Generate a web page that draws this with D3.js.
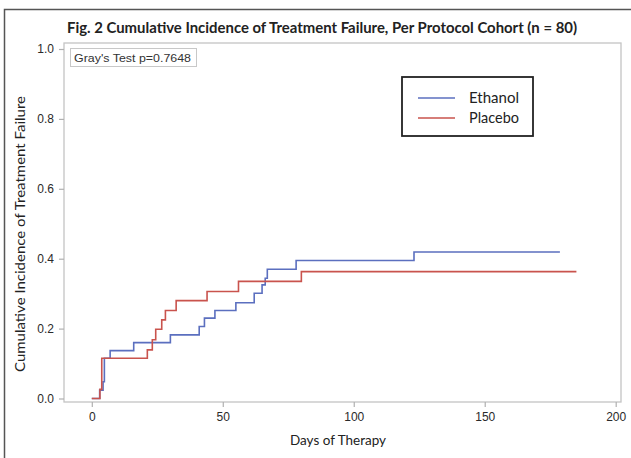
<!DOCTYPE html>
<html>
<head>
<meta charset="utf-8">
<script src="https://cdn.jsdelivr.net/npm/d3@7"></script>
<style>
body { margin: 0; background: #fff; }
svg { display: block; }
</style>
</head>
<body>
<svg width="631" height="458"></svg>
<script>
// step data: [day, cumulative incidence]
var ethanol = [[0, 0], [3, 0.024], [4.3, 0.048], [4.8, 0.115], [7, 0.137], [16, 0.16], [30, 0.182],
	[41, 0.206], [43, 0.23], [47, 0.252], [55, 0.274], [62, 0.301], [65, 0.325], [66.2, 0.344],
	[67, 0.37], [78, 0.395], [123, 0.419], [178.7, 0.419]];
var placebo = [[0, 0], [3.1, 0.026], [3.8, 0.115], [21.2, 0.139], [23.1, 0.168], [24.4, 0.198],
	[26.7, 0.225], [28.1, 0.252], [32.2, 0.28], [44, 0.306], [56, 0.335], [80, 0.363], [185, 0.363]];
var xTicks = [0, 50, 100, 150, 200];
var yTicks = [0, 0.2, 0.4, 0.6, 0.8, 1.0];
var seriesNames = ["Ethanol", "Placebo"];
var colors = ["#5b6fbf", "#c9534d"];

var svg = d3.select("svg");

// outer frame of the figure
svg.append("rect")
	.attr("x", 4.5).attr("y", 9.5)
	.attr("width", 640).attr("height", 460)
	.attr("fill", "none").attr("stroke", "#555").attr("stroke-width", 1.5);

var x = d3.scaleLinear().domain([0, 200]).range([91.8, 615.7]);
var y = d3.scaleLinear().domain([0, 1]).range([398.5, 49]);

var frame = { left: 64, top: 43, right: 621, bottom: 402 };

svg.append("rect")
	.attr("x", frame.left).attr("y", frame.top)
	.attr("width", frame.right - frame.left).attr("height", frame.bottom - frame.top)
	.attr("fill", "none").attr("stroke", "#c4c4c4").attr("stroke-width", 1.3);

// axes
var xAxis = svg.append("g")
	.attr("transform", "translate(0," + frame.bottom + ")")
	.call(d3.axisBottom(x).tickValues(xTicks).tickSize(5).tickPadding(5).tickFormat(d3.format("d")));
var yAxis = svg.append("g")
	.attr("transform", "translate(" + frame.left + ",0)")
	.call(d3.axisLeft(y).tickValues(yTicks).tickSize(5).tickPadding(5).tickFormat(d3.format(".1f")));

[xAxis, yAxis].forEach(a => {
	a.select(".domain").remove();
	a.selectAll(".tick line").attr("stroke", "#b0b0b0").attr("stroke-width", 1.2);
	a.selectAll(".tick text")
		.attr("fill", "#2a2a2a")
		.style("font-family", "'Liberation Sans', Arial, sans-serif")
		.style("font-size", "12px");
});

// step lines
var line = d3.line()
	.x(d => x(d[0]))
	.y(d => y(d[1]))
	.curve(d3.curveStepAfter);

[ethanol, placebo].forEach((s, i) => {
	svg.append("path")
		.datum(s)
		.attr("d", line)
		.attr("fill", "none")
		.attr("stroke", colors[i])
		.attr("stroke-width", 1.6);
});

// title
svg.append("text")
	.attr("x", 322).attr("y", 33)
	.attr("text-anchor", "middle")
	.attr("textLength", 510).attr("lengthAdjust", "spacingAndGlyphs")
	.style("font-family", "Lato, 'Open Sans', sans-serif")
	.style("font-weight", "bold")
	.style("font-size", "15px")
	.attr("fill", "#222")
	.text("Fig. 2 Cumulative Incidence of Treatment Failure, Per Protocol Cohort (n = 80)");

// axis labels
svg.append("text")
	.attr("x", 338).attr("y", 445)
	.attr("text-anchor", "middle")
	.attr("textLength", 96).attr("lengthAdjust", "spacingAndGlyphs")
	.style("font-family", "Lato, 'Open Sans', sans-serif")
	.style("font-size", "14px")
	.attr("fill", "#222")
	.text("Days of Therapy");

svg.append("text")
	.attr("transform", "translate(25,234) rotate(-90)")
	.attr("text-anchor", "middle")
	.attr("textLength", 276).attr("lengthAdjust", "spacingAndGlyphs")
	.style("font-family", "Lato, 'Open Sans', sans-serif")
	.style("font-size", "14px")
	.attr("fill", "#222")
	.text("Cumulative Incidence of Treatment Failure");

// Gray's test box
svg.append("rect")
	.attr("x", 70.5).attr("y", 48.5).attr("width", 126).attr("height", 18)
	.attr("fill", "#fff").attr("stroke", "#c8c8c8");
svg.append("text")
	.attr("x", 74).attr("y", 61.5)
	.attr("textLength", 117).attr("lengthAdjust", "spacingAndGlyphs")
	.style("font-family", "'Liberation Sans', Arial, sans-serif")
	.style("font-size", "11.5px")
	.attr("fill", "#333")
	.text("Gray's Test p=0.7648");

// legend
var legend = svg.append("g");
legend.append("rect")
	.attr("x", 402).attr("y", 77).attr("width", 131).attr("height", 59)
	.attr("fill", "#fff").attr("stroke", "#222").attr("stroke-width", 1.8);
seriesNames.forEach((name, i) => {
	var ly = 98 + i * 20;
	legend.append("line")
		.attr("x1", 418).attr("x2", 455)
		.attr("y1", ly).attr("y2", ly)
		.attr("stroke", colors[i]).attr("stroke-width", 1.4);
	legend.append("text")
		.attr("x", 469).attr("y", ly + 5)
		.attr("textLength", 50).attr("lengthAdjust", "spacingAndGlyphs")
		.style("font-family", "Lato, 'Open Sans', sans-serif")
		.style("font-size", "15px")
		.attr("fill", "#222")
		.text(name);
});
</script>
</body>
</html>
